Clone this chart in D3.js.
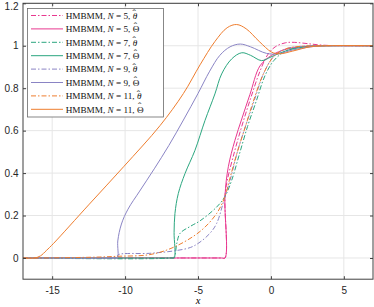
<!DOCTYPE html>
<html lang="en">
<head>
<meta charset="UTF-8">
<title>HMBMM</title>
<script src="https://d3js.org/d3.v7.min.js"></script>
<style>
    body {margin: 0; background: #fff;}
    svg {display: block;}
    .tick text {font-family: "Liberation Sans", Arial, sans-serif; font-size: 10px; fill: #262626;}
    .leg text {font-family: "Liberation Serif", "Times New Roman", serif; font-size: 9.2px; fill: #111;}
</style>
</head>
<body>
<svg id="fig" width="374" height="307"></svg>

<script>
// tick values
let xTicks = [-15, -10, -5, 0, 5]
let yTicks = [0, 0.2, 0.4, 0.6, 0.8, 1, 1.2]

// curves, [x, y]
let n5_theta = [[-17,0],[-3.4,0],[-3.15,0],[-3.15,0.29],[-2.99,0.366],[-2.5,0.5],[-2.0,0.62],[-1.4,0.75],
    [-0.75,0.88],[-0.2,0.96],[0.3,0.995],[1.0,1.014],[1.6,1.016],[2.5,1.01],[3.5,1.003],[5,1],[7,1]]
let n5_Theta = [[-17,0],[-3.4,0],[-3.15,0],[-3.15,0.29],[-2.92,0.43],[-2.47,0.554],[-2.0,0.655],[-1.44,0.77],
    [-0.75,0.905],[0.05,0.955],[1.07,0.984],[2.67,0.998],[4,1],[7,1]]
let n7_theta = [[-17,0],[-6.9,0],[-6.64,0.005],[-6.45,0.07],[-6.23,0.116],[-5.5,0.15],[-4.86,0.175],[-3.72,0.24],
    [-3.15,0.29],[-2.69,0.366],[-2.2,0.48],[-1.6,0.62],[-1.0,0.74],[-0.4,0.86],[0.2,0.93],[1,0.975],[2,0.993],[3.5,1],[7,1]]
let n7_Theta = [[-17,0],[-6.9,0],[-6.64,0],[-6.64,0.12],[-6.58,0.21],[-6.35,0.304],[-5.89,0.398],[-5.21,0.507],
    [-4.52,0.648],[-3.84,0.773],[-3.38,0.867],[-2.69,0.938],[-2.0,0.967],[-1.4,0.955],[-0.64,0.93],[0,0.947],
    [0.6,0.965],[1.5,0.985],[3,0.998],[4.5,1],[7,1]]
let n9_theta = [[-17,0],[-10.8,0],[-10.53,0],[-10.5,0.014],[-8.3,0.022],[-6.69,0.033],[-5.5,0.05],[-4.86,0.075],
    [-4.2,0.115],[-3.72,0.163],[-3.15,0.29],[-2.8,0.366],[-2.3,0.5],[-1.7,0.63],[-1.15,0.74],[-0.5,0.87],
    [0.2,0.95],[1,0.985],[2,0.997],[3.5,1],[7,1]]
let n9_Theta = [[-17,0],[-10.8,0],[-10.53,0],[-10.5,0.08],[-10.25,0.16],[-9.8,0.23],[-9.0,0.315],[-8.0,0.42],
    [-7.0,0.53],[-6.0,0.65],[-5.0,0.775],[-4.2,0.88],[-3.5,0.955],[-2.8,0.995],[-2.1,1.008],[-1.4,0.995],
    [-0.3,0.964],[0.5,0.962],[1.5,0.98],[3,0.997],[4.5,1],[7,1]]
let n11_theta = [[-17,0],[-15.9,0],[-12,0.004],[-10.5,0.008],[-8.3,0.016],[-6.69,0.05],[-4.86,0.125],[-3.72,0.21],
    [-3.15,0.29],[-2.85,0.366],[-2.3,0.5],[-1.7,0.63],[-1.2,0.74],[-0.5,0.87],[0.2,0.95],[1,0.985],[2,0.997],[3.5,1],[7,1]]
let n11_Theta = [[-17,0],[-16.2,0],[-15.8,0.01],[-15.4,0.035],[-14.9,0.069],[-12.5,0.25],[-10.1,0.43],[-7.6,0.624],
    [-6.0,0.775],[-4.86,0.91],[-3.84,1.02],[-3.0,1.085],[-2.35,1.1],[-1.7,1.08],[-0.8,1.02],[0.05,0.97],
    [0.6,0.962],[1.5,0.975],[2.7,0.995],[4,1],[7,1]]

let series = [
    {label: "5", hat: "\u03b8", data: n5_theta, color: "#e8388f", dash: true},
    {label: "5", hat: "\u0398", data: n5_Theta, color: "#e8388f", dash: false},
    {label: "7", hat: "\u03b8", data: n7_theta, color: "#2ba67f", dash: true},
    {label: "7", hat: "\u0398", data: n7_Theta, color: "#2ba67f", dash: false},
    {label: "9", hat: "\u03b8", data: n9_theta, color: "#8a84c4", dash: true},
    {label: "9", hat: "\u0398", data: n9_Theta, color: "#8a84c4", dash: false},
    {label: "11", hat: "\u03b8", data: n11_theta, color: "#ee7d2e", dash: true},
    {label: "11", hat: "\u0398", data: n11_Theta, color: "#ee7d2e", dash: false}
]

let svg = d3.select("#fig")
let pL = 23, pR = 373, pT = 3.3, pB = 279.2

let x = d3.scaleLinear().domain([-17, 7]).range([pL, pR])
let y = d3.scaleLinear().domain([-0.1, 1.2]).range([pB, pT])

// grid
svg.append("g").selectAll("line").data(xTicks).join("line")
    .attr("x1", d => x(d)).attr("x2", d => x(d))
    .attr("y1", pT).attr("y2", pB)
    .attr("stroke", "#e6e6e6").attr("stroke-width", 1)
svg.append("g").selectAll("line").data(yTicks).join("line")
    .attr("x1", pL).attr("x2", pR)
    .attr("y1", d => y(d)).attr("y2", d => y(d))
    .attr("stroke", "#e6e6e6").attr("stroke-width", 1)

// curves
svg.append("clipPath").attr("id", "clip")
    .append("rect").attr("x", pL).attr("y", pT)
    .attr("width", pR - pL).attr("height", pB - pT)

let line = d3.line()
    .x(d => x(d[0])).y(d => y(d[1]))
    .curve(d3.curveCatmullRom.alpha(0.5))

svg.append("g").attr("clip-path", "url(#clip)")
    .selectAll("path").data(series).join("path")
    .attr("d", d => line(d.data))
    .attr("fill", "none")
    .attr("stroke", d => d.color)
    .attr("stroke-width", 1)
    .attr("stroke-dasharray", d => d.dash ? "5,2,1.5,2" : null)

// axes
let fmt = d => String(d)
svg.append("g").attr("transform", `translate(0,${pB})`)
    .call(d3.axisBottom(x).tickValues(xTicks).tickFormat(fmt).tickSize(-3).tickPadding(7.5))
svg.append("g").attr("class", "yax").attr("transform", `translate(${pL},0)`)
    .call(d3.axisLeft(y).tickValues(yTicks).tickFormat(fmt).tickSize(-3).tickPadding(4.5))
svg.append("g").attr("transform", `translate(0,${pT})`)
    .call(d3.axisTop(x).tickValues(xTicks).tickFormat("").tickSize(-3))
svg.append("g").attr("transform", `translate(${pR},0)`)
    .call(d3.axisRight(y).tickValues(yTicks).tickFormat("").tickSize(-3))
svg.selectAll(".domain").remove()
svg.selectAll(".tick line").attr("stroke", "#404040")
// keep the top label inside the picture
svg.selectAll(".yax .tick text").filter(d => d === 1.2).attr("dy", "0.6em")

// frame
svg.append("rect")
    .attr("x", pL).attr("y", pT)
    .attr("width", pR - pL).attr("height", pB - pT)
    .attr("fill", "none").attr("stroke", "#404040").attr("stroke-width", 1)

// x label
svg.append("text")
    .attr("x", (pL + pR) / 2).attr("y", 304)
    .attr("text-anchor", "middle")
    .style("font-family", "'Liberation Serif', serif")
    .style("font-style", "italic")
    .style("font-size", "10.5px")
    .text("x")

// legend
let leg = svg.append("g").attr("class", "leg")
leg.append("rect")
    .attr("x", 27.5).attr("y", 8.5).attr("width", 136).attr("height", 108.5)
    .attr("fill", "#fff").attr("stroke", "#6a6a6a").attr("stroke-width", 0.8)

let rows = leg.selectAll("g.row").data(series).join("g")
    .attr("class", "row")
    .attr("transform", (d, i) => `translate(0,${15.5 + i * 13.4})`)
rows.append("line")
    .attr("x1", 31).attr("x2", 63)
    .attr("stroke", d => d.color).attr("stroke-width", 1)
    .attr("stroke-dasharray", d => d.dash ? "5,2,1.5,2" : null)
let txt = rows.append("text").attr("x", 65.7).attr("y", 3.2)
txt.append("tspan").text("HMBMM, ")
txt.append("tspan").style("font-style", "italic").text("N")
txt.append("tspan").text(d => " = " + d.label + ", ")
txt.append("tspan")
    .style("font-style", d => d.hat === "\u03b8" ? "italic" : "normal")
    .text(d => d.hat)
// wide hat over the symbol
txt.append("tspan")
    .attr("dx", d => d.hat === "\u03b8" ? -4.6 : -5.6)
    .attr("dy", d => d.hat === "\u03b8" ? -1.6 : -2.2)
    .style("font-size", "10px")
    .text("\u02c6")
</script>
</body>
</html>
